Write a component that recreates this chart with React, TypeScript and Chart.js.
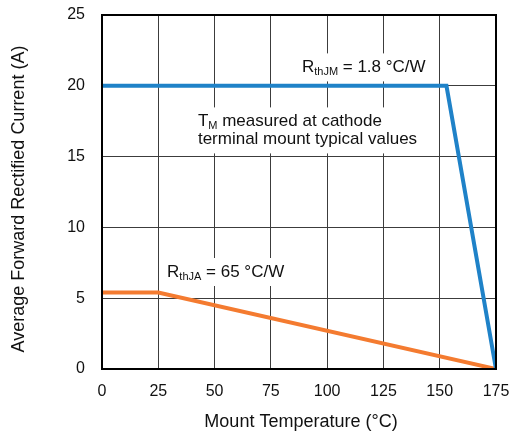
import React, { useEffect, useRef } from "react";
import { Chart, registerables } from "chart.js";

Chart.register(...registerables);

const xTicks = [0, 25, 50, 75, 100, 125, 150, 175];
const yTicks = [0, 5, 10, 15, 20, 25];
const rthJMTemps = [0, 153, 175];
const rthJMCurrent = [20, 20, 0];
const rthJATemps = [0, 25, 175];
const rthJACurrent = [5.4, 5.4, 0];
const xTitle = "Mount Temperature (°C)";
const yTitle = "Average Forward Rectified Current (A)";

const FONT = "'Liberation Sans', Arial, sans-serif";

type Seg = { t: string; sub?: boolean };
const annotations: { x: number; y: number; lines: Seg[][] }[] = [
  { x: 88.8, y: 21.3, lines: [[{ t: "R" }, { t: "thJM", sub: true }, { t: " = 1.8 °C/W" }]] },
  {
    x: 42.6,
    y: 16.85,
    lines: [
      [{ t: "T" }, { t: "M", sub: true }, { t: " measured at cathode" }],
      [{ t: "terminal mount typical values" }],
    ],
  },
  { x: 28.9, y: 6.85, lines: [[{ t: "R" }, { t: "thJA", sub: true }, { t: " = 65 °C/W" }]] },
];

const MAIN = 17;
const SUB = 11;
const LINE_H = 18;

function measureLine(ctx: CanvasRenderingContext2D, segs: Seg[]) {
  let w = 0;
  for (const s of segs) {
    ctx.font = `${s.sub ? SUB : MAIN}px ${FONT}`;
    w += ctx.measureText(s.t).width;
  }
  return w;
}

const annPlugin = {
  id: "ann",
  beforeDatasetsDraw(chart: any) {
    const ctx = chart.ctx as CanvasRenderingContext2D;
    const xs = chart.scales.x;
    const ys = chart.scales.y;
    ctx.save();
    ctx.fillStyle = "#ffffff";
    for (const a of annotations) {
      const left = xs.getPixelForValue(a.x);
      const cy = ys.getPixelForValue(a.y);
      const n = a.lines.length;
      let w = 0;
      for (const l of a.lines) w = Math.max(w, measureLine(ctx, l));
      const h = n * LINE_H;
      ctx.fillRect(left - 4, cy - h / 2 - 5, w + 8, h + 10);
    }
    ctx.restore();
  },
  afterDatasetsDraw(chart: any) {
    const ctx = chart.ctx as CanvasRenderingContext2D;
    const xs = chart.scales.x;
    const ys = chart.scales.y;
    const area = chart.chartArea;
    ctx.save();
    ctx.strokeStyle = "#000";
    ctx.lineWidth = 2;
    ctx.strokeRect(area.left, area.top, area.right - area.left, area.bottom - area.top);
    ctx.fillStyle = "#111";
    ctx.textBaseline = "middle";
    ctx.textAlign = "left";
    for (const a of annotations) {
      const left = xs.getPixelForValue(a.x);
      const cy = ys.getPixelForValue(a.y);
      const n = a.lines.length;
      a.lines.forEach((l, i) => {
        const y = cy + (i - (n - 1) / 2) * LINE_H;
        let x = left;
        for (const s of l) {
          ctx.font = `${s.sub ? SUB : MAIN}px ${FONT}`;
          ctx.fillText(s.t, x, s.sub ? y + 5 : y);
          x += ctx.measureText(s.t).width;
        }
      });
    }
    ctx.font = `18px ${FONT}`;
    ctx.textAlign = "center";
    ctx.fillText(xTitle, (area.left + area.right) / 2 + 2, 422);
    ctx.translate(19, 199);
    ctx.rotate(-Math.PI / 2);
    ctx.fillText(yTitle, 0, 0);
    ctx.restore();
  },
};

function zeroPad(s: any) {
  s.paddingTop = 0;
  s.paddingBottom = 0;
  s.paddingLeft = 0;
  s.paddingRight = 0;
}

export default function App() {
  const ref = useRef<HTMLCanvasElement>(null);
  useEffect(() => {
    if (!ref.current) return;
    const chart = new Chart(ref.current, {
      type: "line",
      data: {
        datasets: [
          {
            label: "RthJM",
            data: rthJMTemps.map((x, i) => ({ x, y: rthJMCurrent[i] })),
            borderColor: "#1f82c8",
            borderWidth: 4,
            pointRadius: 0,
            fill: false,
            tension: 0,
          },
          {
            label: "RthJA",
            data: rthJATemps.map((x, i) => ({ x, y: rthJACurrent[i] })),
            borderColor: "#f47b30",
            borderWidth: 4,
            pointRadius: 0,
            fill: false,
            tension: 0,
          },
        ],
      },
      options: {
        animation: false,
        responsive: true,
        maintainAspectRatio: false,
        layout: { padding: { top: 15, right: 15, left: 0, bottom: 0 } },
        plugins: { legend: { display: false }, tooltip: { enabled: false } },
        scales: {
          x: {
            type: "linear",
            min: 0,
            max: 175,
            afterBuildTicks: (s: any) => {
              s.ticks = xTicks.map((v) => ({ value: v }));
            },
            afterFit: (s: any) => {
              s.height = 66;
              zeroPad(s);
            },
            ticks: { font: { size: 16, family: FONT }, color: "#111", padding: 13, maxRotation: 0 },
            grid: { color: "#3c3c3c", lineWidth: 1, drawTicks: false },
            border: { display: false },
          },
          y: {
            type: "linear",
            min: 0,
            max: 25,
            afterBuildTicks: (s: any) => {
              s.ticks = yTicks.map((v) => ({ value: v }));
            },
            afterFit: (s: any) => {
              s.width = 102;
              zeroPad(s);
            },
            ticks: { font: { size: 16, family: FONT }, color: "#111", padding: 17 },
            grid: { color: "#3c3c3c", lineWidth: 1, drawTicks: false },
            border: { display: false },
          },
        },
      },
      plugins: [annPlugin],
    });
    return () => chart.destroy();
  }, []);
  return (
    <div style={{ position: "fixed", left: 0, top: 0, width: 511, height: 435, background: "#fff" }}>
      <canvas ref={ref} />
    </div>
  );
}
